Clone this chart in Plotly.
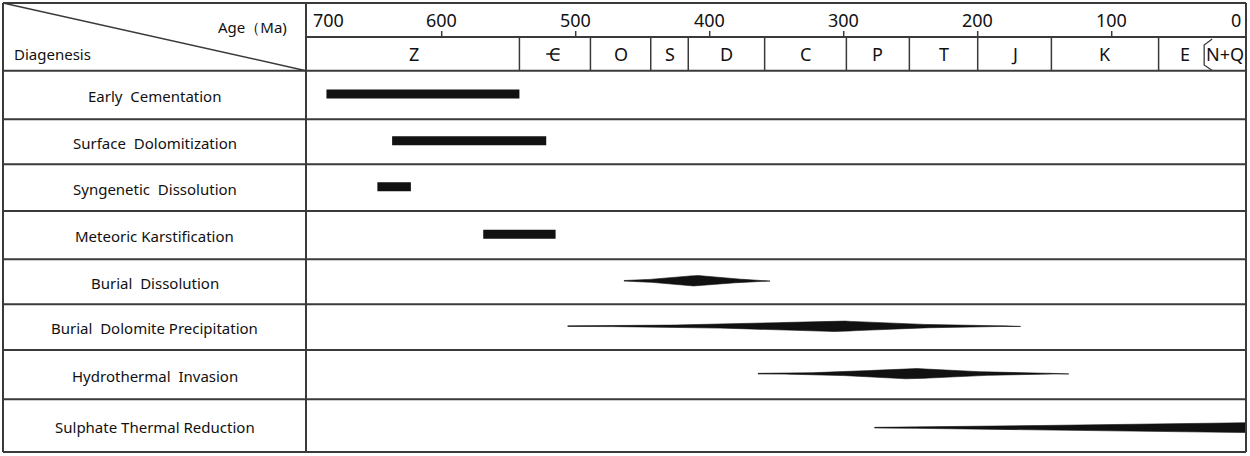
import plotly.graph_objects as go

W, H = 1250, 456

# ---------------- data ----------------
processes = [
    "Early\u00a0 Cementation",
    "Surface\u00a0 Dolomitization",
    "Syngenetic\u00a0 Dissolution",
    "Meteoric Karstification",
    "Burial\u00a0 Dissolution",
    "Burial\u00a0 Dolomite Precipitation",
    "Hydrothermal\u00a0 Invasion",
    "Sulphate Thermal Reduction",
]
# bar-type processes (rows 0-3): start age / end age (Ma)
bar_start = [686, 637, 648, 569]
bar_end = [542, 522, 623, 515]
# lens-type processes (rows 4-6): start / peak / end age (Ma)
lens_start = [464, 506, 364]
lens_peak = [410, 305, 250]
lens_end = [355, 168, 132]
# wedge (row 7): start age, end age (thickest at end)
wedge_start = 277
wedge_end = 0

period_labels = ["Z", "C", "O", "S", "D", "C", "P", "T", "J", "K", "E", "N+Q"]
period_bounds = [700, 542, 489, 444, 416, 359, 298, 251, 200, 145, 65, 25, 0]
tick_values = [700, 600, 500, 400, 300, 200, 100, 0]

# ---------------- layout constants (pixels) ----------------
X_LEFT, X_SPLIT, X_RIGHT = 3, 306, 1246
X0_PX, X700_PX = 1245.7, 307.7
Y_TOP, Y_MID, Y_HEAD = 3, 37, 70.7
row_edges = [70.7, 119.3, 164.3, 211, 259.3, 304.3, 350, 399.3, 452]
row_centers = [(row_edges[i] + row_edges[i + 1]) / 2 for i in range(8)]
lens_power = [1.5, 2.0, 2.0]
INK = "#111111"
LINE = "#3a3a3a"
FONT = "Noto Sans"


def px(x):
    return x / W


def py(y):
    return 1 - y / H


fig = go.Figure()

# bars
fig.add_trace(go.Bar(
    orientation="h",
    y=[row_centers[i] - 1 for i in range(4)],
    base=bar_end,
    x=[s - e for s, e in zip(bar_start, bar_end)],
    width=9,
    marker=dict(color=INK, line=dict(width=0)),
    hoverinfo="skip",
))


def lens_outline(a0, a_peak, a1, yc, half, p=1.6, n=80):
    pts = []
    for k in range(n + 1):
        a = a0 + (a1 - a0) * k / n
        if a >= a_peak:
            u = (a0 - a) / (a0 - a_peak)
        else:
            u = (a - a1) / (a_peak - a1)
        pts.append((a, half * u ** p + 0.3))
    xs = [a for a, h in pts] + [a for a, h in reversed(pts)]
    ys = [yc - h for a, h in pts] + [yc + h for a, h in reversed(pts)]
    return xs, ys


for i in range(3):
    r = 4 + i
    xs, ys = lens_outline(lens_start[i], lens_peak[i], lens_end[i],
                          row_centers[r] - 1, 5.2, p=lens_power[i])
    fig.add_trace(go.Scatter(x=xs, y=ys, fill="toself", fillcolor=INK,
                             mode="lines", line=dict(width=0.6, color=INK),
                             hoverinfo="skip"))

# wedge
n = 80
wx, wy_top, wy_bot = [], [], []
for k in range(n + 1):
    a = wedge_start + (wedge_end - wedge_start) * k / n
    u = (wedge_start - a) / (wedge_start - wedge_end)
    h = 4.6 * u ** 1.15 + 0.3
    wx.append(a)
    wy_top.append(row_centers[7] + 2 - h)
    wy_bot.append(row_centers[7] + 2 + h)
fig.add_trace(go.Scatter(x=wx + wx[::-1], y=wy_top + wy_bot[::-1], fill="toself",
                         fillcolor=INK, mode="lines", line=dict(width=0.6, color=INK),
                         hoverinfo="skip"))

shapes = []


def hline(y, x0, x1, w=2):
    shapes.append(dict(type="line", xref="paper", yref="paper", x0=px(x0), x1=px(x1),
                       y0=py(y), y1=py(y), line=dict(color=LINE, width=w)))


def vline(x, y0, y1, w=2):
    shapes.append(dict(type="line", xref="paper", yref="paper", x0=px(x), x1=px(x),
                       y0=py(y0), y1=py(y1), line=dict(color=LINE, width=w)))


hline(Y_TOP, X_LEFT, X_RIGHT)
hline(Y_MID, X_SPLIT, X_RIGHT)
for y in row_edges:
    hline(y, X_LEFT, X_RIGHT)
vline(X_LEFT, Y_TOP, row_edges[-1])
vline(X_SPLIT, Y_TOP, row_edges[-1])
vline(X_RIGHT, Y_TOP, row_edges[-1])
# diagonal
shapes.append(dict(type="line", xref="paper", yref="paper", x0=px(X_LEFT), y0=py(Y_TOP),
                   x1=px(X_SPLIT), y1=py(Y_HEAD), line=dict(color=LINE, width=1.5)))

# period boundaries (except the bracketed N+Q boundary)
for b in period_bounds[1:-2]:
    shapes.append(dict(type="line", xref="x", yref="paper", x0=b, x1=b,
                       y0=py(Y_MID), y1=py(Y_HEAD), line=dict(color=LINE, width=1.5)))
# bracket for N+Q
bq = period_bounds[-2]
shapes.append(dict(type="path", xref="x", yref="paper",
                   path=f"M {bq},{py(39)} L {bq + 6},{py(45)} L {bq + 6},{py(65)} L {bq},{py(70.5)}",
                   line=dict(color=LINE, width=1.3)))

# bar of the Cambrian symbol
cam_c = (period_bounds[1] + period_bounds[2]) / 2
shapes.append(dict(type="line", xref="x", yref="paper", x0=cam_c + 6.5, x1=cam_c - 3.5,
                   y0=py(54), y1=py(54), line=dict(color="#111", width=1.5)))

# tick marks
for t in tick_values[1:-1]:
    shapes.append(dict(type="line", xref="x", yref="paper", x0=t, x1=t,
                       y0=py(31), y1=py(Y_MID), line=dict(color=LINE, width=1.5)))

annotations = []
for t in tick_values:
    if t == tick_values[0]:
        xa, xs = "left", 3
    elif t == tick_values[-1]:
        xa, xs = "right", -3
    else:
        xa, xs = "center", 0
    annotations.append(dict(x=t, y=py(20), xref="x", yref="paper", text=str(t),
                            showarrow=False, xanchor=xa, yanchor="middle", xshift=xs,
                            font=dict(family=FONT, size=18, color="#111")))

for i, lab in enumerate(period_labels):
    if lab == "N+Q":
        xc = (period_bounds[i] + 6 + period_bounds[i + 1]) / 2
    else:
        xc = (period_bounds[i] + period_bounds[i + 1]) / 2
    annotations.append(dict(x=xc, y=py(54), xref="x", yref="paper", text=lab,
                            showarrow=False, xanchor="center", yanchor="middle",
                            font=dict(family=FONT, size=18, color="#111")))

for i, name in enumerate(processes):
    annotations.append(dict(x=px((X_LEFT + X_SPLIT) / 2), y=py(row_centers[i] + 1),
                            xref="paper", yref="paper", text=name, showarrow=False,
                            xanchor="center", yanchor="middle",
                            font=dict(family=FONT, size=15, color="#111")))

annotations.append(dict(x=px(289), y=py(27), xref="paper", yref="paper", text="Age（Ma)",
                        showarrow=False, xanchor="right", yanchor="middle",
                        font=dict(family=FONT, size=15, color="#111")))
annotations.append(dict(x=px(12), y=py(54), xref="paper", yref="paper", text="Diagenesis",
                        showarrow=False, xanchor="left", yanchor="middle",
                        font=dict(family=FONT, size=15, color="#111")))

fig.update_layout(
    width=W, height=H,
    margin=dict(l=0, r=0, t=0, b=0),
    paper_bgcolor="white", plot_bgcolor="white",
    showlegend=False,
    barmode="overlay",
    xaxis=dict(range=[700, 0], domain=[px(X700_PX), px(X0_PX)], visible=False,
               fixedrange=True),
    yaxis=dict(range=[row_edges[-1], row_edges[0]], domain=[py(row_edges[-1]), py(row_edges[0])],
               visible=False, fixedrange=True),
    shapes=shapes,
    annotations=annotations,
)

fig.write_html("out.html", post_script="document.body.style.margin='0';",
               config={"displayModeBar": False})
